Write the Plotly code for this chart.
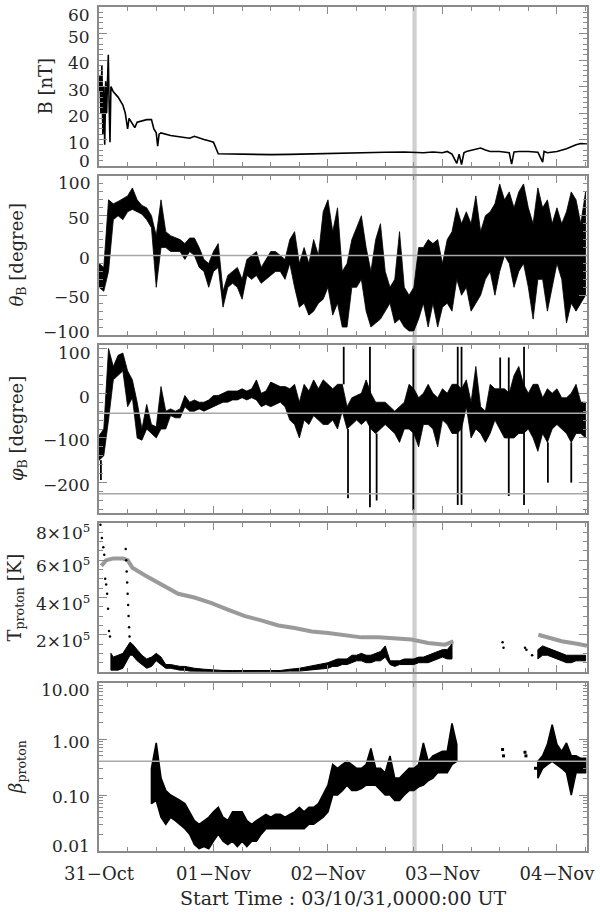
import math
import plotly.graph_objects as go
from plotly.subplots import make_subplots

# ---------------- data (hours since 2003-10-31 00:00 UT) ----------------
B_hours = [0.0, 0.2, 0.4, 0.6, 0.8, 1.0, 1.2, 1.4, 1.6, 1.8, 1.95, 2.1, 2.3, 2.5, 3, 4, 5, 5.5, 6, 6.3, 7, 7.5, 8,
           10, 11, 11.5, 12, 12.3, 12.6, 13, 15, 17, 19, 20, 21, 22, 23, 24, 25, 28, 32, 36, 40, 44, 48, 52, 56, 60,
           64, 66, 68, 70, 72, 73, 74, 75, 75.5, 76, 76.5, 77, 78, 79, 80, 81, 82, 84, 86, 86.5, 87, 88, 90, 92, 93,
           93.3, 94, 96, 98, 100, 101, 102.3]
B_nT = [28, 34, 20, 38, 12, 30, 8, 32, 20, 30, 42, 25, 9, 30, 28, 26, 23, 20, 14, 18, 16, 14.5, 16.5,
        17.5, 17.5, 14, 12.5, 7.5, 12, 12.5, 11.5, 11, 10.5, 11.2, 10.5, 10, 9.5, 9, 4.6, 4.5, 4.4, 4.3, 4.4, 4.6, 4.8,
        5.0, 5.1, 5.2, 5.3, 5.2, 5.0, 5.3, 5.0, 5.5, 4.5, 1.0, 4.5, 0.5, 5.0, 5.5, 6.0, 6.5, 6.8, 6.0, 5.5, 5.5, 5.0,
        0.7, 5.3, 5.5, 5.5, 5.2, 1.5, 5.5, 5.0, 5.5, 6.5, 8.0, 8.5, 8.3]

ang_hours = list(range(0, 103))
theta_lo = [-40, -45, -20, 45, 50, 45, 55, 58, 55, 52, 45, 35, -40, 10, 10, 5, 5, 5, -5, 5, 0, -15, -20, -40, -20,
            -15, -65, -40, -35, -40, -55, -25, -30, -25, -35, -30, -25, -20, -20, -30, -10, -40, -65, -60, -75, -70,
            -60, -55, -40, -75, -60, -90, -90, -40, -40, -30, -70, -90, -85, -80, -70, -60, -85, -80, -90, -95, -95,
            -80, -60, -90, -60, -90, -65, -60, -70, -30, -50, -40, -70, -60, -50, -30, -20, -50, -20, 0, -10, -40,
            -20, -10, -40, -80, -30, -30, -70, -40, -10, -30, -85, -60, -70, -60, -50]
theta_hi = [-10, -15, 70, 65, 68, 72, 75, 85, 70, 63, 60, 50, 25, 70, 30, 25, 22, 20, 15, 22, 22, 10, -5, -10, 5,
            15, -45, -25, -20, -15, -30, -5, 0, 5, -15, -5, 5, 5, 0, -5, 20, 30, -10, 10, -10, 20, 0, 55, 70, 30, 60,
            -20, -10, 20, 35, 50, 10, -20, 20, 40, -20, -40, -30, 30, -40, -50, -40, 10, 10, 20, 15, 20, -10, 20, 30,
            60, 40, 55, 40, 75, 30, 50, 55, 65, 90, 70, 80, 60, 80, 90, 60, 40, 85, 60, 70, 40, 60, 40, 55, 80, 70,
            40, 80]

# phi: hourly core envelope plus isolated narrow spikes
phi_lo = [-150, -140, -60, 30, 40, 50, -30, -10, -100, -105, -80, -90, -100, -80, -80, -50, -55, -55, -30, -40, -40,
          -35, -40, -35, -30, -25, -20, -20, -15, -15, -10, -15, -10, -15, -30, -25, -30, -25, -20, -30, -60, -70,
          -100, -60, -70, -50, -60, -70, -70, -60, -80, -40, -80, -70, -60, -70, -60, -80, -90, -80, -70, -80, -90,
          -110, -80, -80, -90, -120, -70, -70, -80, -120, -60, -70, -90, -90, -80, -30, -100, -80, -90, -110, -90,
          -60, -80, -100, -100, -100, -90, -90, -80, -100, -130, -90, -110, -80, -70, -80, -90, -110, -90, -90, -100]
phi_hi = [-95, -80, 100, 60, 85, 90, 50, 30, -20, -80, -25, -70, -75, 15, -40, -35, -40, -35, -5, -20, -15, -20,
          -20, -15, -5, -5, 0, 5, 5, 5, 10, 5, 10, 30, 0, 5, 25, 20, 15, 15, 10, 20, -20, 20, 5, 30, 10, 30, 20, 10,
          20, 20, -30, -10, -5, 0, 30, 0, -20, -20, -20, -30, -40, -30, -20, 20, 10, -10, 0, 20, 0, -10, 10, 0, 20,
          20, 10, 30, -20, 60, -30, -40, 20, 10, 10, 10, 0, 40, 60, 20, 0, 20, 20, -10, 10, 0, 10, -10, -10, 0, 20,
          -20, -20]
phi_spike_hours = [0.4, 51.3, 52.2, 56.8, 58.2, 65.9, 75.2, 76.0, 84.1, 85.9, 89.1, 94.1, 99.0]
phi_spike_lo = [-194, 20, -235, -255, -240, -262, -250, -250, 10, -230, -250, -200, -200]
phi_spike_hi = [-150, 104, -80, 104, -90, 106, 104, 104, 80, 80, 104, -110, -110]

Tgray_hours = [0.5, 1.5, 3, 5, 6, 7, 9.6, 13, 16.6, 20, 23.6, 27, 30.6, 34, 37.6, 41, 44.6, 48, 51.6, 55, 58.6, 62,
               65.5, 69, 72.5, 74.3, None, 92.1, 93.5, 97, 100.5, 102.3]
Tgray_1e5 = [5.7, 6.0, 6.1, 6.1, 6.0, 5.6, 5.2, 4.7, 4.2, 4.0, 3.7, 3.35, 3.0, 2.77, 2.5, 2.36, 2.18, 2.09, 1.97,
             1.86, 1.86, 1.82, 1.74, 1.56, 1.47, 1.65, None, 2.0, 1.9, 1.65, 1.5, 1.4]

Tp_hours = [2.5, 3, 4, 5, 6.5, 7, 8, 9, 10, 11, 12, 13, 14, 15, 16, 17, 18, 19, 20, 22, 24, 26, 28, 30, 32, 34, 36,
            38, 40, 42, 44, 46, 48, 49, 50, 51, 52, 53, 54, 55, 56, 57, 58, 59, 60, 61, 62, 63, 64, 65, 66, 67, 68,
            69, 70, 71, 72, 73, 74, None, 92, 93, 94, 95, 96, 97, 98, 99, 100, 101, 102]
Tp_lo = [0.1, 0.1, 0.1, 0.2, 0.9, 0.9, 0.6, 0.4, 0.2, 0.3, 0.6, 0.4, 0.2, 0.2, 0.15, 0.1, 0.1, 0.05, 0.05, 0.03,
         0.02, 0.01, 0.01, 0.01, 0.01, 0.01, 0.01, 0.01, 0.05, 0.05, 0.1, 0.15, 0.2, 0.3, 0.3, 0.4, 0.4, 0.5, 0.6,
         0.6, 0.5, 0.5, 0.6, 0.6, 0.8, 0.4, 0.3, 0.4, 0.4, 0.4, 0.4, 0.5, 0.5, 0.5, 0.6, 0.7, 0.8, 0.7, 0.7, None,
         0.7, 0.9, 0.9, 0.8, 0.7, 0.6, 0.5, 0.5, 0.6, 0.6, 0.6]
Tp_hi = [1.0, 0.8, 0.9, 1.0, 1.6, 1.5, 1.2, 0.9, 0.7, 0.8, 1.0, 0.8, 0.4, 0.4, 0.35, 0.3, 0.3, 0.25, 0.2, 0.15, 0.1,
         0.08, 0.08, 0.08, 0.08, 0.08, 0.08, 0.08, 0.15, 0.2, 0.3, 0.4, 0.5, 0.6, 0.7, 0.7, 0.7, 0.9, 0.9, 1.0, 0.9,
         0.9, 1.0, 1.1, 1.4, 0.6, 0.6, 0.6, 0.7, 0.7, 0.7, 0.8, 0.8, 0.9, 1.0, 1.1, 1.2, 1.2, 1.5, None, 1.2, 1.4,
         1.3, 1.2, 1.1, 1.0, 0.9, 0.9, 0.9, 0.9, 0.9]
Tdot_hours = [0.3, 0.6, 0.9, 1.1, 1.3, 1.5, 1.7, 1.9, 2.1, 2.3, 5.6, 5.7, 5.8, 5.9, 6.0, 6.1, 6.2, 6.3, 6.4, 84.6,
              84.8, 89.3, 89.6, 90.8]
Tdot_1e5 = [7.9, 7.2, 6.7, 6.3, 5.0, 4.7, 4.2, 3.4, 2.2, 1.9, 6.6, 6.0, 5.4, 4.8, 4.2, 3.6, 3.0, 2.4, 1.9, 1.6, 1.3,
            1.3, 1.2, 0.9]

beta_hours = list(range(11, 76)) + [None] + list(range(92, 103))
beta_lo = [0.07, 0.08, 0.04, 0.03, 0.04, 0.035, 0.03, 0.025, 0.02, 0.013, 0.011, 0.012, 0.011, 0.015, 0.02, 0.015,
           0.013, 0.015, 0.012, 0.015, 0.012, 0.015, 0.015, 0.02, 0.025, 0.025, 0.025, 0.025, 0.025, 0.025, 0.025,
           0.025, 0.025, 0.03, 0.03, 0.035, 0.04, 0.05, 0.1, 0.1, 0.12, 0.15, 0.12, 0.12, 0.13, 0.15, 0.15, 0.15,
           0.12, 0.1, 0.1, 0.08, 0.08, 0.1, 0.12, 0.12, 0.14, 0.15, 0.18, 0.2, 0.25, 0.25, 0.25, 0.35, 0.4, None,
           0.2, 0.3, 0.35, 0.4, 0.35, 0.3, 0.25, 0.1, 0.25, 0.25, 0.25]
beta_hi = [0.3, 0.85, 0.2, 0.12, 0.1, 0.09, 0.08, 0.07, 0.05, 0.035, 0.03, 0.035, 0.04, 0.05, 0.06, 0.04, 0.035,
           0.05, 0.05, 0.05, 0.035, 0.03, 0.035, 0.04, 0.045, 0.04, 0.045, 0.045, 0.04, 0.045, 0.05, 0.06, 0.05,
           0.06, 0.06, 0.07, 0.1, 0.15, 0.35, 0.3, 0.35, 0.4, 0.35, 0.3, 0.3, 0.35, 0.68, 0.3, 0.3, 0.25, 0.5, 0.2,
           0.2, 0.25, 0.3, 0.3, 0.35, 0.85, 0.4, 0.5, 0.55, 0.6, 0.6, 1.9, 0.8, None, 0.4, 0.5, 0.8, 1.8, 0.8, 0.6,
           0.85, 0.5, 0.5, 0.45, 0.45]
beta_dot_hours = [84.6, 84.8, 89.3, 89.5, 91.5]
beta_dot = [0.65, 0.5, 0.58, 0.5, 0.3]

day_ticks = [0, 24, 48, 72, 96]
day_labels = ["31−Oct", "01−Nov", "02−Nov", "03−Nov", "04−Nov"]
band_hours = [65.7, 66.6]
theta_refs = [0]
phi_refs = [-45, -225]
beta_refs = [0.4]

B_ticks = [0, 10, 20, 30, 40, 50, 60]
theta_ticks = [-100, -50, 0, 50, 100]
phi_ticks = [-200, -100, 0, 100]
T_ticks = [2e5, 4e5, 6e5, 8e5]
T_tick_text = ["2×10<sup>5</sup>", "4×10<sup>5</sup>", "6×10<sup>5</sup>", "8×10<sup>5</sup>"]
beta_ticks = [0.01, 0.1, 1, 10]
beta_tick_text = ["0.01", "0.10", "1.00", "10.00"]


def band(h, lo, hi, scale=1.0):
    """Closed envelope polygon(s) between the low and high readings (None splits segments)."""
    xs, ys = [], []
    seg = []
    for t, a, b in list(zip(h, lo, hi)) + [(None, None, None)]:
        if t is None:
            if seg:
                xs += [p[0] for p in seg] + [p[0] for p in reversed(seg)] + [seg[0][0], None]
                ys += [p[2] * scale for p in seg] + [p[1] * scale for p in reversed(seg)] + [seg[0][2] * scale, None]
            seg = []
        else:
            seg.append((t, a, b))
    return xs, ys


def sticks(h, lo, hi):
    xs, ys = [], []
    for t, a, b in zip(h, lo, hi):
        xs += [t, t, None]
        ys += [a, b, None]
    return xs, ys


FONT = "DejaVu Serif"
TXT = "#262626"
AX = "#8a8a8a"
fig = make_subplots(rows=5, cols=1, shared_xaxes=True)

fig.add_trace(go.Scatter(x=B_hours, y=B_nT, mode="lines", line=dict(color="black", width=1.6)), 1, 1)
x, y = band(ang_hours, theta_lo, theta_hi)
fig.add_trace(go.Scatter(x=x, y=y, mode="lines", fill="toself", fillcolor="black",
                         line=dict(color="black", width=0.8)), 2, 1)
x, y = band(ang_hours, phi_lo, phi_hi)
fig.add_trace(go.Scatter(x=x, y=y, mode="lines", fill="toself", fillcolor="black",
                         line=dict(color="black", width=0.8)), 3, 1)
x, y = sticks(phi_spike_hours, phi_spike_lo, phi_spike_hi)
fig.add_trace(go.Scatter(x=x, y=y, mode="lines", line=dict(color="black", width=1.8)), 3, 1)
fig.add_trace(go.Scatter(x=Tgray_hours, y=[v * 1e5 if v is not None else None for v in Tgray_1e5], mode="lines",
                         line=dict(color="#9a9a9a", width=4)), 4, 1)
x, y = band(Tp_hours, Tp_lo, Tp_hi, scale=1e5)
fig.add_trace(go.Scatter(x=x, y=y, mode="lines", fill="toself", fillcolor="black",
                         line=dict(color="black", width=1)), 4, 1)
fig.add_trace(go.Scatter(x=Tdot_hours, y=[v * 1e5 for v in Tdot_1e5], mode="markers",
                         marker=dict(color="black", size=2.5)), 4, 1)
x, y = band(beta_hours, beta_lo, beta_hi)
fig.add_trace(go.Scatter(x=x, y=y, mode="lines", fill="toself", fillcolor="black",
                         line=dict(color="black", width=1.6)), 5, 1)
fig.add_trace(go.Scatter(x=beta_dot_hours, y=beta_dot, mode="markers",
                         marker=dict(color="black", size=3, symbol="square")), 5, 1)

# panel pixel geometry -> domains
H, top, bot = 912, 7, 61
ph = H - top - bot
panels = [(7, 166), (176, 335), (345, 513), (523, 672), (683, 851)]
doms = [[1 - (b - top) / ph, 1 - (t - top) / ph] for t, b in panels]
L, R = 99, 587

common_x = dict(range=[0, 102.3], showline=True, linecolor=AX, linewidth=1.5, mirror="ticks", ticks="inside",
                ticklen=7, tickcolor=AX, tickwidth=1, tickvals=day_ticks, ticktext=day_labels, showgrid=False,
                zeroline=False, automargin=False, ticklabelstandoff=6,
                minor=dict(dtick=6, tick0=0, ticks="inside", ticklen=4, tickcolor=AX),
                tickfont=dict(family=FONT, size=18, color=TXT))
for i in range(1, 6):
    fig.update_xaxes(common_x, row=i, col=1)
    fig.update_xaxes(showticklabels=(i == 5), row=i, col=1)

common_y = dict(showline=True, linecolor=AX, linewidth=1.5, mirror="ticks", ticks="inside", ticklen=8,
                tickcolor=AX, tickwidth=1, showgrid=False, zeroline=False, showticklabels=False, automargin=False)
fig.update_yaxes(common_y)
minor_log = [m * 10 ** e for e in (-2, -1, 0) for m in range(2, 10)]
fig.update_yaxes(range=[0, 60], tickvals=B_ticks,
                 minor=dict(dtick=2, ticks="inside", ticklen=4, tickcolor=AX), row=1, col=1)
fig.update_yaxes(range=[-100, 100], tickvals=theta_ticks,
                 minor=dict(dtick=10, ticks="inside", ticklen=4, tickcolor=AX), row=2, col=1)
fig.update_yaxes(range=[-268, 108], tickvals=phi_ticks,
                 minor=dict(dtick=20, tick0=0, ticks="inside", ticklen=4, tickcolor=AX), row=3, col=1)
fig.update_yaxes(range=[0, 8e5], tickvals=T_ticks,
                 minor=dict(dtick=5e4, ticks="inside", ticklen=4, tickcolor=AX), row=4, col=1)
fig.update_yaxes(type="log", range=[-2, 1], tickvals=beta_ticks,
                 minor=dict(tickmode="array", tickvals=minor_log, ticks="inside", ticklen=4, tickcolor=AX),
                 row=5, col=1)

layout_upd = {}
for i, d in enumerate(doms):
    key = "yaxis" if i == 0 else f"yaxis{i + 1}"
    layout_upd[key] = dict(domain=d)
fig.update_layout(**layout_upd)

# y tick labels (placed like the original plotting package: edge labels nudged inward)
label_sets = [
    (1, B_ticks, [str(v) for v in B_ticks], [5, -3, -3, -3, -3, -3, -8], False),
    (2, theta_ticks, [str(v).replace("-", "−") for v in theta_ticks], [3, -2, -2, -2, -7], False),
    (3, phi_ticks, [str(v).replace("-", "−") for v in phi_ticks], [-2, -2, -4, -4], False),
    (4, T_ticks, T_tick_text, [-5, -5, -5, -9], False),
    (5, beta_ticks, beta_tick_text, [5, -2, -3, -7], True),
]
for ax, vals, texts, shifts, islog in label_sets:
    for v, t, s in zip(vals, texts, shifts):
        fig.add_annotation(text=t, xref="paper", yref=f"y{ax}", x=(92 - L) / (R - L),
                           y=math.log10(v) if islog else v, yshift=s, xanchor="right", yanchor="middle",
                           showarrow=False, font=dict(family=FONT, size=17, color=TXT))

# reference lines and band
REF = "#a8a8a8"
for v in theta_refs:
    fig.add_shape(type="line", xref="x2 domain", yref="y2", x0=0, x1=1, y0=v, y1=v, line=dict(color=REF, width=1.5))
for v in phi_refs:
    fig.add_shape(type="line", xref="x3 domain", yref="y3", x0=0, x1=1, y0=v, y1=v, line=dict(color=REF, width=1.5))
for v in beta_refs:
    fig.add_shape(type="line", xref="x5 domain", yref="y5", x0=0, x1=1, y0=v, y1=v, line=dict(color=REF, width=1.5))
fig.add_shape(type="rect", xref="x", yref="paper", x0=band_hours[0], x1=band_hours[1], y0=0, y1=1,
              fillcolor="#d0d0d0", line=dict(width=0), layer="below")

# y-axis titles
titles = [("B [nT]", 45), ("<i>θ</i><sub>B</sub> [degree]", 18), ("<i>φ</i><sub>B</sub> [degree]", 18),
          ("T<sub>proton</sub> [K]", 15), ("<i>β</i><sub>proton</sub>", 17)]
for (txt, px), d in zip(titles, doms):
    fig.add_annotation(text=txt, xref="paper", yref="paper", x=(px - L) / (R - L), y=(d[0] + d[1]) / 2,
                       textangle=-90, showarrow=False, xanchor="center", yanchor="middle",
                       font=dict(family=FONT, size=18, color=TXT))

# x-axis title
fig.add_annotation(text="Start Time : 03/10/31,0000:00 UT", xref="paper", yref="paper", x=0.5,
                   y=-(898 - 851) / ph, xanchor="center", yanchor="middle", showarrow=False,
                   font=dict(family=FONT, size=19, color=TXT))

fig.update_layout(width=600, height=912, margin=dict(l=L, r=600 - R, t=top, b=bot, autoexpand=False),
                  showlegend=False, plot_bgcolor="white", paper_bgcolor="white")
fig.write_html("out.html", config={"displayModeBar": False},
               post_script="document.body.style.margin='0px';document.body.style.padding='0px';")
